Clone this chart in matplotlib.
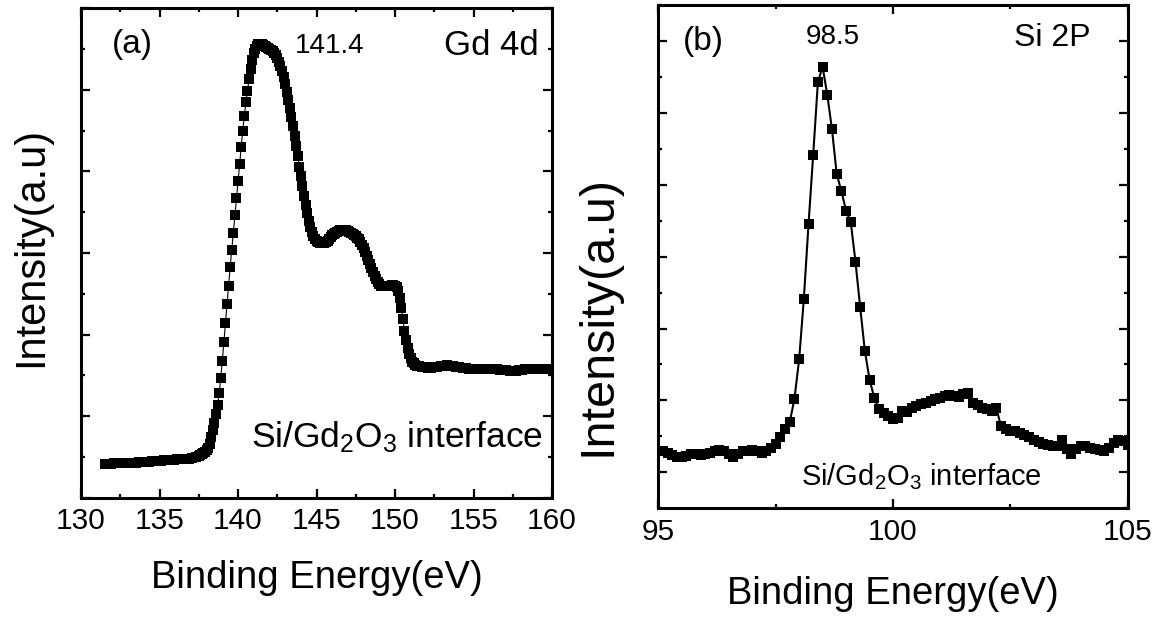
import numpy as np
import matplotlib
matplotlib.use("Agg")
import matplotlib.pyplot as plt

plt.rcParams['font.family'] = ['Liberation Sans', 'DejaVu Sans']
plt.rcParams['mathtext.fontset'] = 'custom'
plt.rcParams['mathtext.rm'] = 'Liberation Sans'
plt.rcParams['mathtext.it'] = 'Liberation Sans'

# (a) Gd 4d spectrum: coarse steps on the flat parts, 0.1 eV across the peak
energy_a = np.round(np.concatenate([np.arange(131.5, 137.4, 0.2),
                                    np.arange(137.5, 151.55, 0.1),
                                    np.arange(151.7, 159.75, 0.2)]), 2)
intensity_a = [
    0.41, 0.41, 0.41, 0.42, 0.42, 0.42, 0.42, 0.43, 0.43, 0.43,
    0.43, 0.44, 0.44, 0.44, 0.44, 0.45, 0.45, 0.45, 0.45, 0.46,
    0.46, 0.46, 0.46, 0.47, 0.47, 0.47, 0.48, 0.48, 0.49, 0.50,
    # 137.5 - 151.5
    0.51, 0.52, 0.54, 0.55, 0.56, 0.58, 0.61, 0.66, 0.74, 0.83,
    0.92, 1.03, 1.14, 1.28, 1.47, 1.68, 1.91, 2.14, 2.37, 2.60,
    2.83, 3.04, 3.25, 3.47, 3.67, 3.88, 4.09, 4.30, 4.50, 4.68,
    4.85, 4.99, 5.13, 5.26, 5.37, 5.45, 5.50, 5.54, 5.56, 5.56,
    5.56, 5.55, 5.54, 5.53, 5.51, 5.50, 5.49, 5.48, 5.45, 5.43,
    5.39, 5.34, 5.29, 5.23, 5.16, 5.07, 4.97, 4.88, 4.78, 4.67,
    4.56, 4.43, 4.31, 4.19, 4.06, 3.94, 3.82, 3.70, 3.59, 3.49,
    3.39, 3.32, 3.26, 3.21, 3.17, 3.15, 3.13, 3.12, 3.12, 3.12,
    3.12, 3.13, 3.15, 3.17, 3.20, 3.22, 3.23, 3.25, 3.26, 3.27,
    3.28, 3.28, 3.28, 3.28, 3.28, 3.27, 3.26, 3.25, 3.23, 3.22,
    3.21, 3.19, 3.17, 3.13, 3.10, 3.06, 3.01, 2.96, 2.91, 2.86,
    2.82, 2.77, 2.72, 2.68, 2.64, 2.62, 2.60, 2.60, 2.59, 2.59,
    2.59, 2.60, 2.60, 2.61, 2.61, 2.60, 2.58, 2.53, 2.45, 2.33,
    2.19, 2.05, 1.93, 1.84, 1.76, 1.71, 1.67, 1.65, 1.63, 1.62,
    1.61,
    # 151.7 - 159.7
    1.60, 1.60, 1.59, 1.59, 1.60, 1.60, 1.61, 1.62, 1.63, 1.62,
    1.61, 1.60, 1.60, 1.59, 1.59, 1.58, 1.58, 1.58, 1.58, 1.58,
    1.58, 1.58, 1.58, 1.58, 1.58, 1.57, 1.56, 1.56, 1.55, 1.55,
    1.55, 1.56, 1.57, 1.58, 1.58, 1.58, 1.58, 1.58, 1.58, 1.58,
    1.58,
]

# (b) Si 2p spectrum, 0.1 eV steps
energy_b = np.round(np.arange(95.0, 105.05, 0.1), 2)
intensity_b = [
    0.30, 0.29, 0.27, 0.24, 0.22, 0.21, 0.23, 0.25, 0.26, 0.24,
    0.25, 0.27, 0.30, 0.31, 0.29, 0.26, 0.22, 0.26, 0.29, 0.30,
    0.31, 0.29, 0.27, 0.30, 0.34, 0.40, 0.49, 0.60, 0.70, 1.02,
    1.57, 2.41, 3.45, 4.42, 5.43, 5.64, 5.25, 4.77, 4.15, 3.91,
    3.64, 3.48, 2.93, 2.30, 1.69, 1.29, 1.04, 0.88, 0.82, 0.79,
    0.74, 0.75, 0.86, 0.84, 0.90, 0.92, 0.95, 0.96, 0.99, 1.02,
    1.04, 1.06, 1.07, 1.06, 1.05, 1.09, 1.10, 0.97, 0.93, 0.90,
    0.88, 0.85, 0.90, 0.64, 0.60, 0.58, 0.57, 0.55, 0.52, 0.49,
    0.45, 0.42, 0.40, 0.38, 0.37, 0.36, 0.45, 0.33, 0.26, 0.32,
    0.37, 0.36, 0.34, 0.33, 0.31, 0.29, 0.34, 0.41, 0.45, 0.43,
    0.38,
]

xticks_a = [130, 135, 140, 145, 150, 155, 160]
xticks_b = [95, 100, 105]

fig = plt.figure(figsize=(11.59, 6.22), dpi=100)
ax1 = fig.add_axes([0.0699, 0.1998, 0.4064, 0.7868])
ax2 = fig.add_axes([0.568, 0.1828, 0.405, 0.8092])

for ax in (ax1, ax2):
    for s in ax.spines.values():
        s.set_linewidth(2.2)
    ax.tick_params(which='both', direction='in', top=True, right=True,
                   labelsize=21.5, pad=7)
    ax.tick_params(which='major', length=6.5, width=1.6)
    ax.tick_params(which='minor', length=3.2, width=1.6)

# panel (a)
ax1.plot(energy_a, intensity_a, color='k', lw=0.8, marker='s', ms=6.7,
         markeredgewidth=0)
ax1.set_xlim(130, 160)
ax1.set_ylim(0, 6)
ax1.set_xticks(xticks_a)
ax1.set_xticks(np.arange(132.5, 160, 5), minor=True)
ax1.set_yticks(np.arange(0, 6.1, 1))
ax1.set_yticks(np.arange(0.5, 6, 1), minor=True)
ax1.set_yticklabels([])
ax1.set_xlabel('Binding Energy(eV)', fontsize=27.5)
ax1.xaxis.set_label_coords(0.5, -0.127)
ax1.set_ylabel('Intensity(a.u)', fontsize=30)
ax1.yaxis.set_label_coords(-0.064, 0.513)
ax1.text(0.065, 0.927, '(a)', transform=ax1.transAxes, fontsize=24, va='center')
ax1.text(0.529, 0.909, '141.4', transform=ax1.transAxes, fontsize=20,
         ha='center', va='baseline')
ax1.text(0.972, 0.925, 'Gd 4d', transform=ax1.transAxes, fontsize=25,
         ha='right', va='center')
ax1.text(0.36, 0.104, 'Si/Gd$_2$O$_3$ interface', transform=ax1.transAxes,
         fontsize=25.5, va='baseline')

# panel (b)
ax2.plot(energy_b, intensity_b, color='k', lw=1.5, marker='s', ms=6.8,
         markeredgewidth=0)
ax2.set_xlim(95, 105)
ax2.set_ylim(-0.5, 6.5)
ax2.set_xticks(xticks_b)
ax2.set_xticks([97.5, 102.5], minor=True)
ax2.set_yticks(np.arange(0, 6.1, 1))
ax2.set_yticks(np.arange(-0.5, 6.6, 1), minor=True)
ax2.set_yticklabels([])
ax2.set_xlabel('Binding Energy(eV)', fontsize=27.5)
ax2.xaxis.set_label_coords(0.5, -0.135)
ax2.set_ylabel('Intensity(a.u)', fontsize=35)
ax2.yaxis.set_label_coords(-0.08, 0.384)
ax2.text(0.052, 0.928, '(b)', transform=ax2.transAxes, fontsize=24, va='center')
ax2.text(0.372, 0.9225, '98.5', transform=ax2.transAxes, fontsize=20,
         ha='center', va='baseline')
ax2.text(0.92, 0.934, 'Si 2P', transform=ax2.transAxes, fontsize=23,
         ha='right', va='center')
ax2.text(0.305, 0.046, 'Si/Gd$_2$O$_3$ interface', transform=ax2.transAxes,
         fontsize=21, va='baseline')

fig.savefig('out.png', dpi=100)
